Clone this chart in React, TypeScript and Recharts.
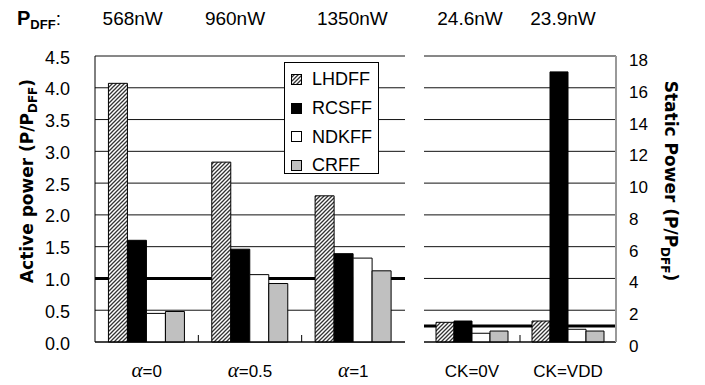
import React from 'react';
import { BarChart, Bar, XAxis, YAxis, CartesianGrid, ReferenceLine, Legend } from 'recharts';

const seriesNames = ['LHDFF', 'RCSFF', 'NDKFF', 'CRFF'];
const seriesFills = ['url(#hatchLH)', '#000000', '#ffffff', '#c0c0c0'];

const activeCategories = ['α=0', 'α=0.5', 'α=1'];
const activePdff = ['568nW', '960nW', '1350nW'];
const activeLHDFF = [4.07, 2.83, 2.3];
const activeRCSFF = [1.6, 1.46, 1.39];
const activeNDKFF = [0.45, 1.06, 1.32];
const activeCRFF = [0.48, 0.92, 1.12];

const staticCategories = ['CK=0V', 'CK=VDD'];
const staticPdff = ['24.6nW', '23.9nW'];
const staticLHDFF = [1.24, 1.32];
const staticRCSFF = [1.32, 17.0];
const staticNDKFF = [0.55, 0.8];
const staticCRFF = [0.69, 0.69];

const activeTicks = [0, 0.5, 1, 1.5, 2, 2.5, 3, 3.5, 4, 4.5];
const staticTicks = [0, 2, 4, 6, 8, 10, 12, 14, 16, 18];
const referenceLevel = 1;

const activeData = activeCategories.map((cat, i) => ({
  cat,
  pdff: activePdff[i],
  LHDFF: activeLHDFF[i],
  RCSFF: activeRCSFF[i],
  NDKFF: activeNDKFF[i],
  CRFF: activeCRFF[i],
}));

const staticData = staticCategories.map((cat, i) => ({
  cat,
  pdff: staticPdff[i],
  LHDFF: staticLHDFF[i],
  RCSFF: staticRCSFF[i],
  NDKFF: staticNDKFF[i],
  CRFF: staticCRFF[i],
}));

const SANS = '"Liberation Sans", Arial, sans-serif';
const activeHeaderNudge = [-14, -15, -1];
const staticHeaderNudge = [-2, -5];
const LABEL_GAP = 23;

const makeTopTick = (nudges: number[]) => (props: any) => {
  const { x, y, payload, index } = props;
  return (
    <text x={x + (nudges[index] ?? 0)} y={y} dy={-31} textAnchor="middle" fontSize={19} fontFamily={SANS} fill="#000">
      {payload.value}
    </text>
  );
};

const makeCatTick = (plotWidth: number) => (props: any) => {
  const { x, y, payload, index, visibleTicksCount } = props;
  const v: string = String(payload.value);
  const greek = v.startsWith('α');
  const n = visibleTicksCount || 1;
  const w = typeof props.width === 'number' && props.width > 0 ? props.width : plotWidth;
  const half = w / (2 * n);
  const axisY = y - LABEL_GAP;
  return (
    <g>
      {index < n - 1 ? <line x1={x + half} x2={x + half} y1={axisY} y2={axisY - 7} stroke="#000" strokeWidth={1} /> : null}
      <text x={x} y={y} dy={12} textAnchor="middle" fontSize={17} fontFamily={SANS} fill="#000">
        {greek ? (
          <>
            <tspan fontFamily='"Liberation Serif", serif' fontStyle="italic" fontSize={21}>α</tspan>
            <tspan>{v.slice(1)}</tspan>
          </>
        ) : (
          v
        )}
      </text>
    </g>
  );
};

const leftYTick = (props: any) => (
  <text x={props.x} y={props.y} dy={7.5} textAnchor="end" fontSize={18} fontFamily={SANS} fill="#000">
    {Number(props.payload.value).toFixed(1)}
  </text>
);

const rightYTick = (props: any) => (
  <text x={props.x} y={props.y} dy={10} textAnchor="start" fontSize={17} fontFamily={SANS} fill="#000">
    {props.payload.value}
  </text>
);

const HatchDef = ({ id }: { id: string }) => (
  <pattern id={id} patternUnits="userSpaceOnUse" width={4} height={4}>
    <rect width={4} height={4} fill="#fff" />
    <path d="M-1,1 l2,-2 M0,4 l4,-4 M3,5 l2,-2" stroke="#333" strokeWidth={1.3} />
  </pattern>
);

const legendContent = () => (
  <div style={{ fontFamily: SANS, fontSize: 18, color: '#000', paddingTop: 2 }}>
    {seriesNames.map((s, i) => (
      <div key={s} style={{ display: 'flex', alignItems: 'center', height: 28.7 }}>
        <svg width={11} height={11} style={{ marginLeft: 6, marginRight: 10, flex: 'none', display: 'block' }}>
          {i === 0 ? (
            <defs>
              <HatchDef id="hatchLegend" />
            </defs>
          ) : null}
          <rect x={0.5} y={0.5} width={10} height={10} fill={i === 0 ? 'url(#hatchLegend)' : seriesFills[i]} stroke="#000" />
        </svg>
        <span style={{ lineHeight: '18px' }}>{s}</span>
      </div>
    ))}
  </div>
);

export default function App() {
  return (
    <div style={{ position: 'absolute', left: 0, top: 0, width: 705, height: 385, background: '#fff', fontFamily: SANS }}>
      <div style={{ position: 'absolute', left: 0, top: 0 }}>
        <BarChart width={415} height={385} data={activeData} margin={{ top: 0, right: 10, bottom: 0, left: 0 }} barCategoryGap="13%" barGap={0}>
          <defs>
            <HatchDef id="hatchLH" />
          </defs>
          <CartesianGrid vertical={false} stroke="#111" />
          <XAxis dataKey="cat" height={43} tickLine={false} axisLine={{ stroke: '#000' }} tick={makeCatTick(310)} tickSize={0} tickMargin={LABEL_GAP} interval={0} />
          <XAxis xAxisId="top" orientation="top" dataKey="pdff" height={56} tickLine={false} axisLine={false} tick={makeTopTick(activeHeaderNudge)} tickSize={0} tickMargin={0} interval={0} />
          <YAxis domain={[0, 4.5]} ticks={activeTicks} width={95} tick={leftYTick} tickLine={false} tickSize={0} tickMargin={25} axisLine={{ stroke: '#000' }} interval={0} />
          <YAxis yAxisId="rb" orientation="right" width={0} tick={false} tickLine={false} axisLine={{ stroke: '#999', strokeWidth: 2 }} domain={[0, 1]} />
          <ReferenceLine y={referenceLevel} stroke="#000" strokeWidth={3} zIndex={-50} />
          {seriesNames.map((s, i) => (
            <Bar key={s} dataKey={s} fill={seriesFills[i]} stroke="#000" strokeWidth={1} isAnimationActive={false} />
          ))}
          <Legend
            layout="vertical"
            align="center"
            verticalAlign="middle"
            content={legendContent}
            wrapperStyle={{ left: 284, top: 62, width: 95, height: 112, border: '1px solid #000', background: '#fff', boxSizing: 'border-box' }}
          />
        </BarChart>
      </div>
      <div style={{ position: 'absolute', left: 415, top: 0 }}>
        <BarChart width={290} height={385} data={staticData} margin={{ top: 0, right: 0, bottom: 0, left: 9 }} barCategoryGap="12.5%" barGap={0}>
          <defs>
            <HatchDef id="hatchLH2" />
          </defs>
          <CartesianGrid vertical={false} stroke="#111" />
          <XAxis dataKey="cat" height={43} tickLine={false} axisLine={{ stroke: '#000' }} tick={makeCatTick(192)} tickSize={0} tickMargin={LABEL_GAP} interval={0} />
          <XAxis xAxisId="top" orientation="top" dataKey="pdff" height={56} tickLine={false} axisLine={false} tick={makeTopTick(staticHeaderNudge)} tickSize={0} tickMargin={0} interval={0} />
          <YAxis yAxisId="lb" orientation="left" width={0} tick={false} tickLine={false} axisLine={{ stroke: '#666', strokeWidth: 1.5 }} domain={[0, 1]} />
          <YAxis orientation="right" domain={[0, 18]} ticks={staticTicks} width={89} tick={rightYTick} tickLine={false} tickSize={0} tickMargin={13} axisLine={{ stroke: '#999', strokeWidth: 2 }} interval={0} />
          <ReferenceLine y={referenceLevel} stroke="#000" strokeWidth={3} zIndex={-50} />
          {seriesNames.map((s, i) => (
            <Bar key={s} dataKey={s} fill={i === 0 ? 'url(#hatchLH2)' : seriesFills[i]} stroke="#000" strokeWidth={1} isAnimationActive={false} />
          ))}
        </BarChart>
      </div>
      <svg width={705} height={385} style={{ position: 'absolute', left: 0, top: 0, pointerEvents: 'none' }}>
        <text x={17} y={25} fontFamily={SANS} fill="#000">
          <tspan fontWeight="bold" fontSize={20}>P</tspan>
          <tspan fontWeight="bold" fontSize={13} dy={4}>DFF</tspan>
          <tspan fontSize={19} dy={-4}>:</tspan>
        </text>
        <text transform="translate(33,181) rotate(-90)" textAnchor="middle" fontFamily='"DejaVu Sans", sans-serif' fontWeight="bold" fontSize={17} fill="#000">
          Active power (P/P<tspan fontSize={12} dy={4}>DFF</tspan><tspan dy={-4}>)</tspan>
        </text>
        <text transform="translate(665,181) rotate(90)" textAnchor="middle" fontFamily='"DejaVu Sans", sans-serif' fontWeight="bold" fontSize={17} fill="#000">
          Static Power (P/P<tspan fontSize={12} dy={4}>DFF</tspan><tspan dy={-4}>)</tspan>
        </text>
      </svg>
    </div>
  );
}
